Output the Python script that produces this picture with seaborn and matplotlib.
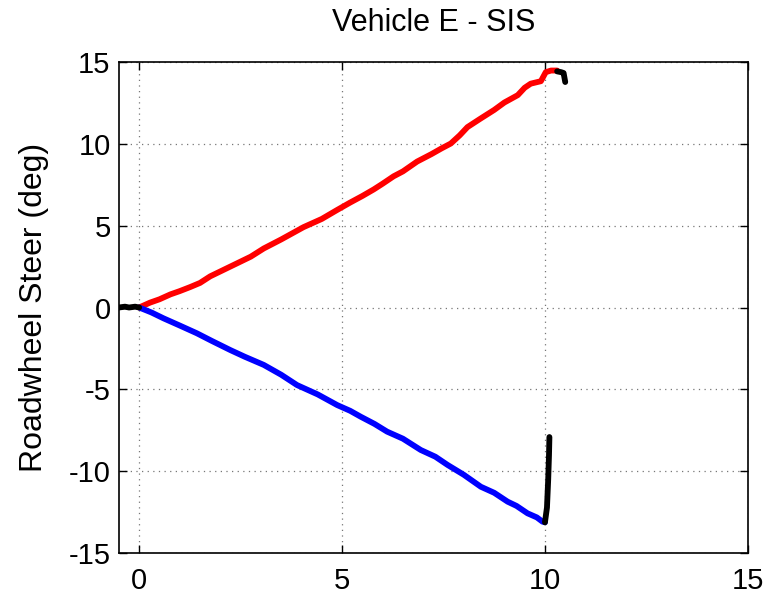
import matplotlib
matplotlib.use("Agg")
import matplotlib.pyplot as plt
import seaborn as sns
import pandas as pd

# ---- data ----
red_t = [0.0, 0.27, 0.5, 0.77, 1.0, 1.26, 1.5, 1.75, 2.0, 2.25, 2.5, 2.75, 3.07, 3.5,
         4.05, 4.5, 4.88, 5.2, 5.5, 5.78, 6.0, 6.27, 6.5, 6.85, 7.2, 7.45, 7.68, 7.9,
         8.09, 8.4, 8.75, 9.0, 9.33, 9.5, 9.65, 9.9, 10.02, 10.15, 10.3]
red_v = [0.0, 0.3, 0.5, 0.8, 1.0, 1.25, 1.5, 1.9, 2.2, 2.5, 2.8, 3.1, 3.6, 4.15,
         4.9, 5.4, 5.95, 6.4, 6.8, 7.2, 7.55, 8.0, 8.3, 8.9, 9.35, 9.7, 10.0, 10.5,
         11.0, 11.5, 12.05, 12.5, 12.95, 13.4, 13.65, 13.8, 14.35, 14.45, 14.45]

blue_t = [0.0, 0.3, 0.6, 1.0, 1.42, 1.8, 2.25, 2.6, 3.07, 3.5, 3.89, 4.4, 4.88, 5.2,
          5.46, 5.8, 6.11, 6.5, 6.94, 7.3, 7.6, 8.0, 8.42, 8.75, 9.08, 9.3, 9.57,
          9.8, 9.94, 10.0]
blue_v = [0.0, -0.3, -0.66, -1.1, -1.57, -2.05, -2.6, -3.0, -3.5, -4.1, -4.73, -5.3,
          -5.95, -6.3, -6.66, -7.1, -7.57, -8.0, -8.69, -9.1, -9.6, -10.2, -10.93,
          -11.3, -11.84, -12.1, -12.55, -12.8, -13.06, -13.1]

black_start_t = [-0.5, -0.35, -0.25, -0.1, 0.0]
black_start_v = [0.0, 0.05, 0.0, 0.05, 0.0]

black_red_t = [10.3, 10.4, 10.46, 10.5]
black_red_v = [14.4, 14.35, 14.3, 13.75]

black_blue_t = [10.0, 10.05, 10.08, 10.1, 10.11]
black_blue_v = [-13.1, -12.2, -10.5, -9.0, -7.9]

xticks = [0, 5, 10, 15]
yticks = [-15, -10, -5, 0, 5, 10, 15]
title = "Vehicle E - SIS"
ylabel = "Roadwheel Steer (deg)"

# ---- style ----
sns.set_style("white")
plt.rcParams['font.family'] = ['Liberation Sans', 'DejaVu Sans']
plt.rcParams['text.color'] = 'black'

fig = plt.figure(figsize=(7.67, 6.02), dpi=100)
ax = fig.add_axes([0.155, 0.0806, 0.820, 0.8172])

lw = 4.2
segments = [
    (red_t, red_v, "#ff0000"),
    (blue_t, blue_v, "#0000ff"),
    (black_start_t, black_start_v, "#000000"),
    (black_red_t, black_red_v, "#000000"),
    (black_blue_t, black_blue_v, "#000000"),
]
for t, v, c in segments:
    df = pd.DataFrame({"t": t, "v": v})
    sns.lineplot(data=df, x="t", y="v", ax=ax, color=c, linewidth=lw,
                 sort=False, estimator=None)

ax.set_xlim(-0.5, 15)
ax.set_ylim(-15, 15)
ax.set_xticks(xticks)
ax.set_yticks(yticks)
ax.set_xticklabels([str(x) for x in xticks])
ax.set_yticklabels([str(y) for y in yticks])
ax.set_xlabel("")
ax.set_ylabel(ylabel, fontsize=23, labelpad=14, color="black")
ax.set_title(title, fontsize=22, pad=22, color="black")

ax.grid(True, linestyle=(0, (1, 3.5)), color="#777777", linewidth=0.9)
ax.tick_params(direction="in", length=6, width=1, labelsize=21,
               top=True, right=True, bottom=True, left=True, pad=6,
               colors="black", labelcolor="black")
ax.tick_params(axis="x", pad=10)
for s in ax.spines.values():
    s.set_visible(True)
    s.set_color("black")
    s.set_linewidth(1.2)

fig.savefig("out.png", dpi=100)
